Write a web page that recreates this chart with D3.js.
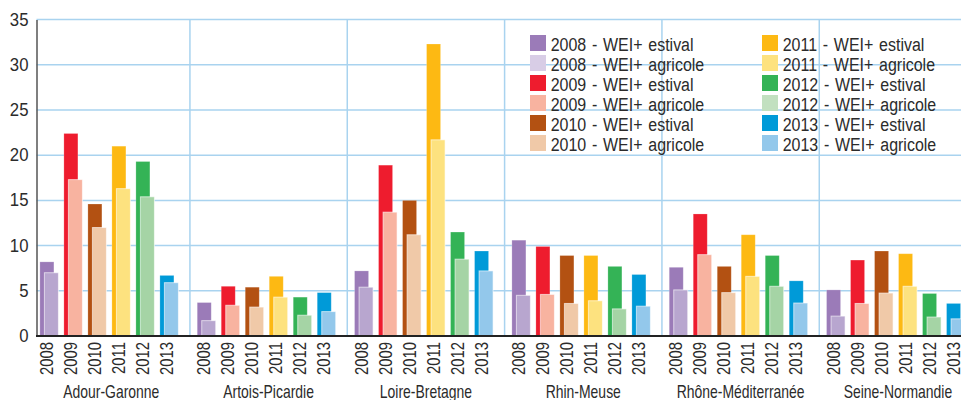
<!DOCTYPE html>
<html><head><meta charset="utf-8">
<script src="https://cdn.jsdelivr.net/npm/d3@7"></script>
<style>
body{margin:0;background:#fff;}
svg{display:block;}
text{font-family:"Liberation Sans",Arial,sans-serif;fill:#2b2b2b;}
</style></head>
<body>
<svg id="chart" width="961" height="400"></svg>
<script>
const regions = ["Adour-Garonne","Artois-Picardie","Loire-Bretagne","Rhin-Meuse","Rhône-Méditerranée","Seine-Normandie"];
const years = ["2008","2009","2010","2011","2012","2013"];
// WEI+ estival, per region, per year
const estival = [
  [8.2, 22.4, 14.6, 21.0, 19.3, 6.7],
  [3.7, 5.5, 5.4, 6.6, 4.3, 4.8],
  [7.2, 18.9, 15.0, 32.3, 11.5, 9.4],
  [10.6, 9.9, 8.9, 8.9, 7.7, 6.8],
  [7.6, 13.5, 7.7, 11.2, 8.9, 6.1],
  [5.1, 8.4, 9.4, 9.1, 4.7, 3.6]
];
// WEI+ agricole, per region, per year
const agricole = [
  [7.0, 17.3, 12.0, 16.3, 15.4, 5.9],
  [1.7, 3.4, 3.2, 4.3, 2.3, 2.7],
  [5.4, 13.7, 11.2, 21.7, 8.5, 7.2],
  [4.5, 4.6, 3.6, 3.9, 3.0, 3.3],
  [5.1, 9.0, 4.8, 6.6, 5.5, 3.65],
  [2.2, 3.6, 4.75, 5.5, 2.1, 1.9]
];
const yTicks = [0,5,10,15,20,25,30,35];
const estivalColors = ["#9b7bb8","#ee1c2e","#b35112","#fdb913","#34b356","#009ad8"];
const agricoleColors = ["#b8a6cf","#f8b3a0","#f0c9a8","#fde27f","#a5d4a5","#93c8eb"];
const agricoleLegendColors = ["#d8cde6","#f8b3a0","#f0c9a8","#fde27f","#c2e0c0","#93c8eb"];

const svg = d3.select("#chart");
const axisX = 36.5, y0px = 336, yTop = 19.6;
const FS = 18.6;
const y = d3.scaleLinear().domain([0,35]).range([y0px, yTop]);
const x0 = d3.scaleBand().domain(regions).range([32.6, 976.6]).padding(0);
const x1 = d3.scaleBand().domain(years).range([7.3, 151.3]).padding(0);
const barW = 14, agrOff = 4.5;
const grid = "#a9d3ef";

function label(g, tx, ty, str, sx, anchor, rot) {
  return g.append("text")
    .attr("transform", `translate(${tx},${ty})${rot ? " rotate(-90)" : ""} scale(${sx},1)`)
    .attr("text-anchor", anchor).attr("font-size", FS).text(str);
}

// horizontal gridlines
svg.append("g").selectAll("line").data(yTicks.filter(d=>d>0)).join("line")
  .attr("x1", axisX).attr("x2", 961).attr("y1", d=>y(d)).attr("y2", d=>y(d))
  .attr("stroke", grid).attr("stroke-width", 1.5);
// vertical separators
svg.append("g").selectAll("line").data(regions.slice(1)).join("line")
  .attr("x1", d=>x0(d)).attr("x2", d=>x0(d)).attr("y1", yTop).attr("y2", y0px)
  .attr("stroke", grid).attr("stroke-width", 1.5);

// legend
const leg = svg.append("g");
const legItems = [];
years.forEach((yr,i)=>{
  legItems.push({label: yr+" - WEI+ estival", color: estivalColors[i]});
  legItems.push({label: yr+" - WEI+ agricole", color: agricoleLegendColors[i]});
});
legItems.forEach((it,i)=>{
  const col = Math.floor(i/6), row = i%6;
  const lx = 530 + col*232, ly = 35 + row*20;
  leg.append("rect").attr("x", lx).attr("y", ly).attr("width", 16).attr("height", 16).attr("fill", it.color);
  label(leg, lx+20.7, ly+15.6, it.label, 0.86, "start", false).attr("word-spacing", 1.5);
});

// bars
const gBars = svg.append("g");
regions.forEach((r,ri)=>{
  years.forEach((yr,yi)=>{
    const bx = x0(r) + x1(yr);
    gBars.append("rect").attr("x", bx).attr("width", barW)
      .attr("y", y(estival[ri][yi])).attr("height", y0px - y(estival[ri][yi]))
      .attr("fill", estivalColors[yi]).attr("stroke","#fff").attr("stroke-opacity",0.25).attr("stroke-width",0.8);
    gBars.append("rect").attr("x", bx + agrOff).attr("width", barW)
      .attr("y", y(agricole[ri][yi])).attr("height", y0px - y(agricole[ri][yi]))
      .attr("fill", agricoleColors[yi]).attr("stroke","#fff").attr("stroke-opacity",0.6).attr("stroke-width",1);
  });
});

// y axis
const yAxis = d3.axisLeft(y).tickValues(yTicks).tickSize(0).tickPadding(0);
const ga = svg.append("g").attr("transform", `translate(${axisX},0)`).call(yAxis);
ga.attr("font-family", null).attr("font-size", null);
ga.select(".domain").attr("stroke", "#555").attr("stroke-width", 1.5);
ga.selectAll(".tick text").attr("x", 0).attr("dy", "0.3em")
  .attr("transform", "translate(-8,0) scale(0.9,1)")
  .attr("font-size", FS).attr("fill", "#2b2b2b");

// baseline
svg.append("line").attr("x1", axisX-0.5).attr("x2", 961).attr("y1", y0px).attr("y2", y0px)
  .attr("stroke", "#222").attr("stroke-width", 2);

// year labels and region labels
const gx = svg.append("g");
regions.forEach(r=>{
  years.forEach(yr=>{
    const cx = x0(r) + x1(yr) + (agrOff + barW)/2;
    label(gx, cx + 4, 342, yr, 0.8, "end", true);
  });
  label(gx, x0(r) + x0.bandwidth()/2, 398, r, 0.75, "middle", false);
});
</script>
</body></html>
